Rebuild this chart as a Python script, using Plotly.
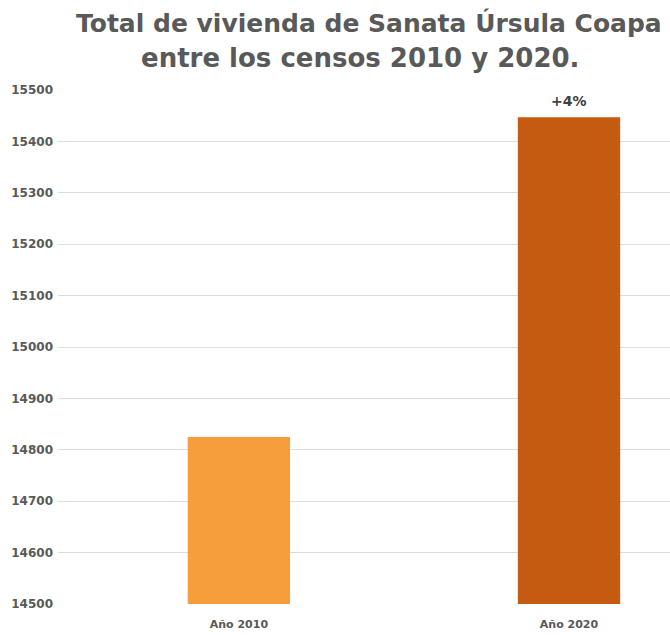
import plotly.graph_objects as go

categories = ["Año 2010", "Año 2020"]
values = [14825, 15447]
bar_colors = ["#F69E3C", "#C55A11"]
change_label = "+4%"
title_lines = ["Total de vivienda de Sanata Úrsula Coapa", "entre los censos 2010 y 2020."]
y_ticks = [14500, 14600, 14700, 14800, 14900, 15000, 15100, 15200, 15300, 15400, 15500]

fig = go.Figure()
fig.add_trace(go.Bar(
    x=categories,
    y=values,
    marker=dict(color=bar_colors, line=dict(width=0)),
    width=0.31,
    hoverinfo="skip",
))

fig.add_annotation(
    x=categories[1], y=values[1], xref="x", yref="y",
    text=change_label, showarrow=False, yanchor="bottom", yshift=6,
    font=dict(family="DejaVu Sans", size=14, color="#404040", weight="bold"),
)

for txt, xx, yy, sz in zip(title_lines, [0.508, 0.494], [1.130, 1.062], [25, 26]):
    fig.add_annotation(
        x=xx, y=yy, xref="paper", yref="paper",
        text=txt, showarrow=False, xanchor="center", yanchor="middle",
        font=dict(family="DejaVu Sans", size=sz, color="#595959", weight="bold"),
    )

fig.update_layout(
    width=670, height=635,
    margin=dict(l=58, r=0, t=90, b=31),
    paper_bgcolor="white", plot_bgcolor="white",
    showlegend=False,
    xaxis=dict(
        type="category",
        range=[-0.548, 1.306],
        showgrid=False, zeroline=False, showline=False,
        ticks="",
        ticklabelstandoff=12,
        tickfont=dict(family="DejaVu Sans", size=11, color="#595959", weight="bold"),
    ),
    yaxis=dict(
        range=[14500, 15500],
        tickvals=y_ticks,
        ticktext=[str(v) for v in y_ticks],
        showgrid=True, gridcolor="#DDDDDD", gridwidth=1.3,
        zeroline=False, showline=False, ticks="",
        ticklabelstandoff=4,
        tickfont=dict(family="DejaVu Sans", size=12, color="#595959", weight="bold"),
    ),
)

fig.write_html("out.html", config={"displayModeBar": False},
               post_script="document.body.style.margin='0';")
